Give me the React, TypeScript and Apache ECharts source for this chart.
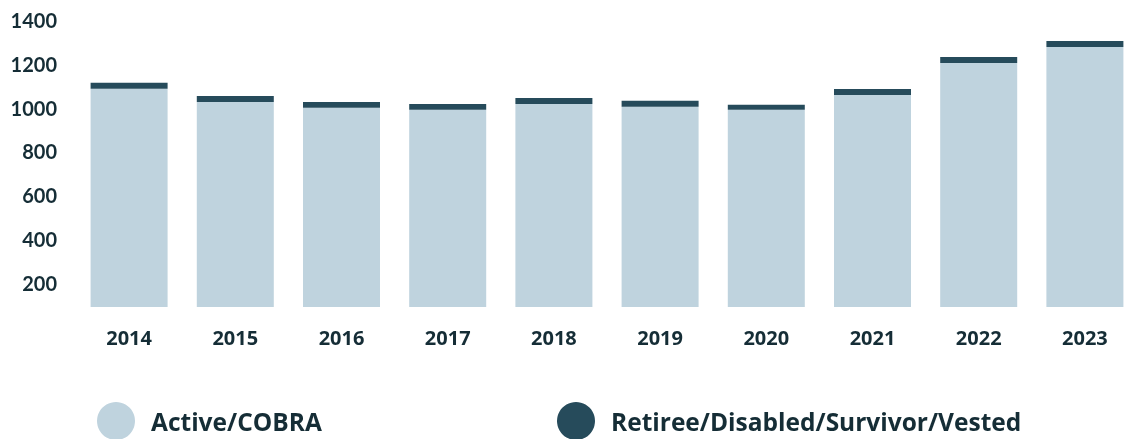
import React, { useEffect, useRef } from "react";
import * as echarts from "echarts";

const years = ["2014", "2015", "2016", "2017", "2018", "2019", "2020", "2021", "2022", "2023"];
const activeCobra = [1086, 1026, 999, 990, 1017, 1004, 990, 1058, 1204, 1277];
const retireeEtc = [28, 27, 27, 27, 27, 27, 23, 27, 27, 27];
const yTickLabels = [200, 400, 600, 800, 1000, 1200, 1400];

const LIGHT = "#BFD3DE";
const DARK = "#264B5B";
const TEXT = "#152D36";

export default function App() {
  const ref = useRef<HTMLDivElement>(null);
  useEffect(() => {
    if (!ref.current) return;
    const chart = echarts.init(ref.current, undefined, { renderer: "svg" });
    const legendText = {
      color: TEXT,
      fontFamily: "Open Sans",
      fontWeight: "bold",
      fontSize: 24.5,
      lineHeight: 24,
      padding: [0, 0, 0, 11],
    };
    chart.setOption({
      animation: false,
      grid: { left: 76, width: 1062, top: 20, bottom: 136 },
      legend: [
        {
          data: ["Active/COBRA"],
          left: 97,
          top: 402,
          padding: 0,
          icon: "circle",
          itemWidth: 38,
          itemHeight: 38,
          textStyle: legendText,
        },
        {
          data: ["Retiree/Disabled/Survivor/Vested"],
          left: 557,
          top: 402,
          padding: 0,
          icon: "circle",
          itemWidth: 38,
          itemHeight: 38,
          textStyle: legendText,
        },
      ],
      xAxis: {
        type: "category",
        data: years,
        axisLine: { show: false },
        axisTick: { show: false },
        axisLabel: { color: TEXT, fontFamily: "Open Sans", fontWeight: "bold", fontSize: 20, margin: 20 },
      },
      yAxis: {
        type: "value",
        min: 90,
        max: 1400,
        interval: 10,
        splitLine: { show: false },
        axisLine: { show: false },
        axisTick: { show: false },
        axisLabel: {
          color: TEXT,
          fontFamily: "Lato",
          fontWeight: "bold",
          fontSize: 20,
          margin: 19,
          formatter: (v: number) => (yTickLabels.indexOf(v) >= 0 ? String(v) : ""),
        },
      },
      series: [
        {
          name: "Active/COBRA",
          type: "bar",
          stack: "total",
          barWidth: 77,
          data: activeCobra,
          itemStyle: { color: LIGHT },
        },
        {
          name: "Retiree/Disabled/Survivor/Vested",
          type: "bar",
          stack: "total",
          barWidth: 77,
          data: retireeEtc,
          itemStyle: { color: DARK },
        },
      ],
    });
    return () => chart.dispose();
  }, []);
  return (
    <div style={{ position: "fixed", left: 0, top: 0, width: 1124, height: 439, overflow: "hidden" }}>
      <div ref={ref} style={{ width: 1150, height: 443 }} />
    </div>
  );
}
